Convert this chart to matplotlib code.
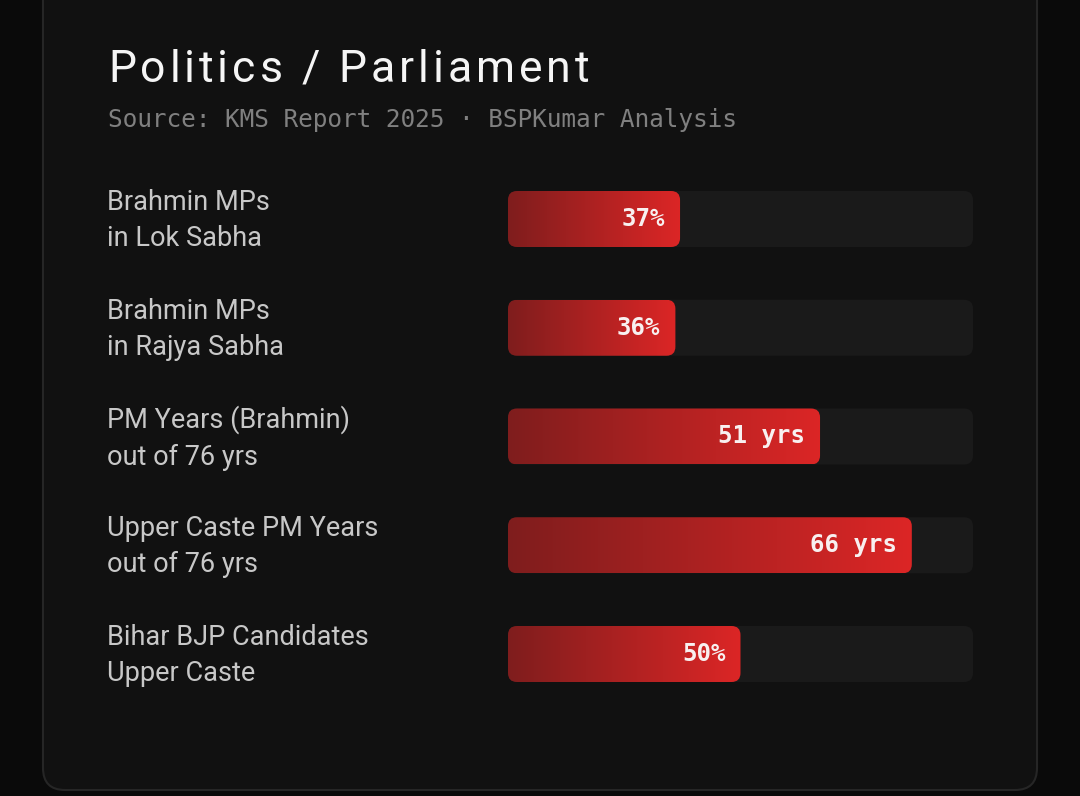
import numpy as np
import matplotlib
matplotlib.use("Agg")
import matplotlib.pyplot as plt  # noqa: E402
from matplotlib.patches import FancyBboxPatch  # noqa: E402
from matplotlib.colors import LinearSegmentedColormap  # noqa: E402
from matplotlib.font_manager import FontProperties  # noqa: E402
import matplotlib.transforms as mtransforms  # noqa: E402

TITLE = "Politics / Parliament"
SUBTITLE = "Source: KMS Report 2025 \u00b7 BSPKumar Analysis"
labels = ["Brahmin MPs\nin Lok Sabha",
          "Brahmin MPs\nin Rajya Sabha",
          "PM Years (Brahmin)\nout of 76 yrs",
          "Upper Caste PM Years\nout of 76 yrs",
          "Bihar BJP Candidates\nUpper Caste"]
values = [37, 36, 51, 66, 50]
maxima = [100, 100, 76, 76, 100]
value_labels = ["37%", "36%", "51 yrs", "66 yrs", "50%"]

W, H = 1080, 796
BG = "#0a0a0a"
CARD = "#111111"
TRACK = "#1a1a1a"
red_cmap = LinearSegmentedColormap.from_list("red", ["#7f1d1d", "#dc2626"])

fig = plt.figure(figsize=(W / 100, H / 100), dpi=100, facecolor=BG)

# background axes in pixel units (y down)
bg = fig.add_axes([0, 0, 1, 1])
bg.set_xlim(0, W)
bg.set_ylim(H, 0)
bg.axis("off")
bg.add_patch(FancyBboxPatch((43, -40), 994, 830,
                            boxstyle="round,pad=0,rounding_size=22",
                            fc=CARD, ec="#262626", lw=1.5))


def spaced_text(ax, x, y, s, spacing, fp, **kw):
    """draw s char by char with extra letter spacing (pixels)."""
    r = fig.canvas.get_renderer()

    def w(t):
        return r.get_text_width_height_descent(t, fp, ismath=False)[0]
    bar = w("|")
    for i, ch in enumerate(s):
        if ch == " ":
            continue
        off = (w(s[:i] + "|") - bar if i else 0) + i * spacing
        ax.text(x + off, y, ch, fontproperties=fp, **kw)


title_fp = FontProperties(family="Roboto", size=32)
spaced_text(bg, 108, 82, TITLE, 3.95, title_fp, color="#f5f5f5",
            va="baseline", ha="left")
bg.text(108, 127, SUBTITLE, family="DejaVu Sans Mono", size=17.55,
        color="#808080", va="baseline", ha="left")

# bar axes: x in percent of track, y in rows
X0, X1 = 508, 973
ROW0, STEP = 219, 108.75
n = len(values)
top_px = ROW0 - STEP / 2
bot_px = ROW0 + STEP * (n - 0.5)
bax = fig.add_axes([X0 / W, 1 - bot_px / H, (X1 - X0) / W,
                    (bot_px - top_px) / H])
bax.axis("off")

xu = 100 / (X1 - X0)           # x units per px
yu = n / (bot_px - top_px)     # y units per px
asp = yu / xu
bh = 56 * yu
rad = 9 * xu

pct = [100.0 * v / m for v, m in zip(values, maxima)]
for i, p in enumerate(pct):
    track = FancyBboxPatch((0, i - bh / 2), 100, bh,
                           boxstyle=f"round,pad=0,rounding_size={rad}",
                           mutation_aspect=asp, fc=TRACK, ec="none")
    bax.add_patch(track)
    fill = FancyBboxPatch((0, i - bh / 2), p, bh,
                          boxstyle=f"round,pad=0,rounding_size={rad}",
                          mutation_aspect=asp, fc="none", ec="none")
    bax.add_patch(fill)
    im = bax.imshow(np.linspace(0, 1, 256)[None, :], cmap=red_cmap,
                    extent=(0, p, i + bh / 2, i - bh / 2), aspect="auto",
                    interpolation="bilinear", zorder=2)
    im.set_clip_path(fill)
    bax.annotate(value_labels[i], (p, i), xytext=(-15, 0),
                 textcoords="offset pixels", ha="right", va="center",
                 family="DejaVu Sans Mono", weight="bold", size=17.3,
                 color="#f8f0f0", zorder=3)

bax.set_xlim(0, 100)
bax.set_ylim(n - 0.5, -0.5)

lab_tr = mtransforms.blended_transform_factory(bg.transData, bax.transData)
for i, lab in enumerate(labels):
    bg.text(107, i + 1.5 * yu, lab, transform=lab_tr, family="Roboto",
            size=19.5, color="#c8c8c8", ha="left", va="center",
            linespacing=1.44)

fig.savefig("out.png", dpi=100, facecolor=BG)
